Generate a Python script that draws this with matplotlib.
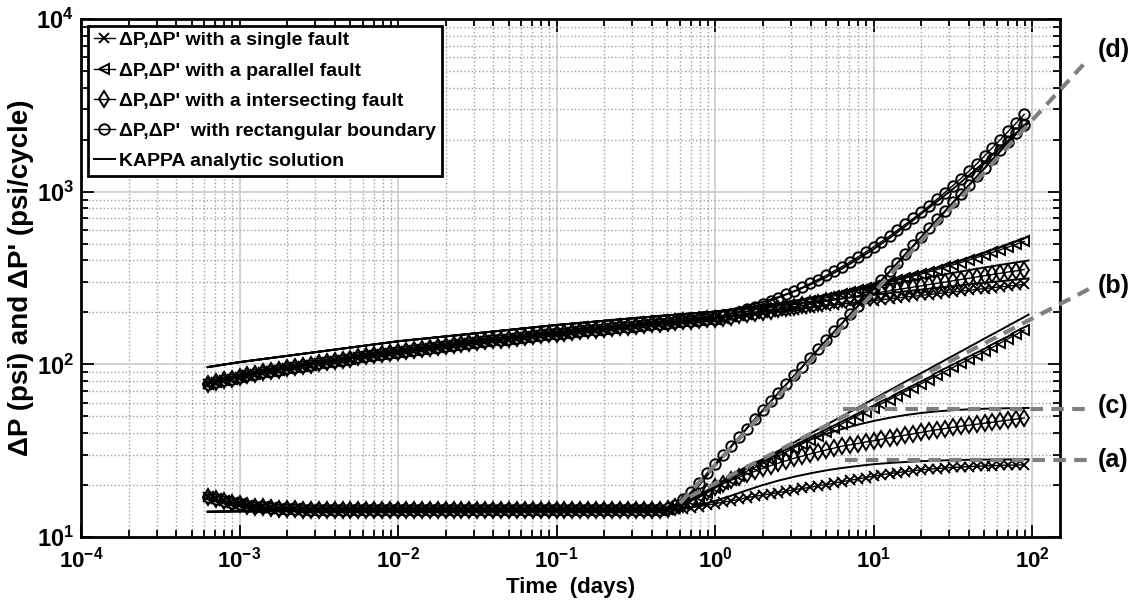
import math
import matplotlib
matplotlib.use('Agg')
import matplotlib.pyplot as plt
from matplotlib.ticker import FuncFormatter, LogLocator, NullFormatter

plt.rcParams['font.family'] = ['Liberation Sans', 'DejaVu Sans']
plt.rcParams['font.weight'] = 'bold'
plt.rcParams['mathtext.fontset'] = 'custom'
plt.rcParams['mathtext.bf'] = 'Liberation Sans:bold'
plt.rcParams['mathtext.rm'] = 'Liberation Sans:bold'

# ---- simulated (marker) data, time in days ----
t_days = [
    6.31e-4, 7.08e-4, 7.94e-4, 8.91e-4,
    1.00e-3, 1.12e-3, 1.26e-3, 1.41e-3, 1.58e-3, 1.78e-3, 2.00e-3, 2.24e-3, 2.51e-3, 2.82e-3,
    3.16e-3, 3.55e-3, 3.98e-3, 4.47e-3, 5.01e-3, 5.62e-3, 6.31e-3, 7.08e-3, 7.94e-3, 8.91e-3,
    1.00e-2, 1.12e-2, 1.26e-2, 1.41e-2, 1.58e-2, 1.78e-2, 2.00e-2, 2.24e-2, 2.51e-2, 2.82e-2,
    3.16e-2, 3.55e-2, 3.98e-2, 4.47e-2, 5.01e-2, 5.62e-2, 6.31e-2, 7.08e-2, 7.94e-2, 8.91e-2,
    0.100, 0.112, 0.126, 0.141, 0.158, 0.178, 0.200, 0.224, 0.251, 0.282,
    0.316, 0.355, 0.398, 0.447, 0.501, 0.562, 0.631, 0.708, 0.794, 0.891,
    1.00, 1.12, 1.26, 1.41, 1.58, 1.78, 2.00, 2.24, 2.51, 2.82,
    3.16, 3.55, 3.98, 4.47, 5.01, 5.62, 6.31, 7.08, 7.94, 8.91,
    10.0, 11.2, 12.6, 14.1, 15.8, 17.8, 20.0, 22.4, 25.1, 28.2,
    31.6, 35.5, 39.8, 44.7, 50.1, 56.2, 63.1, 70.8, 79.4, 89.1,
]

# pressure change (psi): identical for all cases up to 1 day
dp_early = [
    77.0, 78.9, 80.8, 82.7, 84.5, 86.2, 88.0, 89.7, 91.4, 93.1,
    94.7, 96.4, 98.1, 99.7, 101.4, 103.0, 104.7, 106.3, 108.0, 109.6,
    111.3, 112.9, 114.6, 116.2, 117.8, 119.5, 121.1, 122.8, 124.4, 126.1,
    127.7, 129.4, 131.0, 132.7, 134.3, 135.9, 137.6, 139.2, 140.9, 142.5,
    144.2, 145.8, 147.5, 149.1, 150.8, 152.4, 154.1, 155.7, 157.3, 159.0,
    160.6, 162.3, 163.9, 165.6, 167.2, 168.9, 170.5, 172.2, 173.8, 175.5,
    177.1, 178.8, 180.4, 182.1, 183.7,
]
dp_single = [
    185.9, 188.1, 190.4, 192.7, 195.1, 197.5, 200.0, 202.5, 205.0, 207.6,
    210.2, 212.9, 215.7, 218.5, 221.2, 223.7, 226.2, 228.8, 231.3, 234.0,
    236.7, 239.5, 242.3, 245.0, 247.9, 250.8, 253.7, 256.7, 259.6, 262.5,
    265.6, 268.6, 271.7, 274.7, 277.8, 280.9, 284.0, 287.1, 290.2,
]
dp_parallel = [
    186.7, 189.9, 193.2, 196.7, 200.4, 204.3, 208.3, 212.5, 216.9, 221.6,
    226.5, 231.7, 237.1, 242.9, 248.9, 255.3, 261.9, 269.0, 276.3, 284.1,
    291.4, 298.9, 306.9, 315.4, 324.2, 333.6, 343.4, 353.9, 364.9, 376.5,
    388.8, 401.8, 415.4, 429.7, 445.0, 460.9, 478.0, 496.0, 515.2,
]
dp_intersect = [
    186.4, 189.2, 192.0, 195.0, 198.2, 201.4, 204.7, 208.3, 211.8, 215.5,
    219.4, 223.3, 227.4, 231.6, 235.9, 240.2, 244.7, 249.1, 253.3, 257.5,
    261.9, 266.3, 270.9, 275.4, 280.1, 284.8, 289.7, 294.7, 299.6, 304.8,
    310.0, 315.2, 320.5, 325.9, 331.4, 336.9, 342.6, 348.3, 354.1,
]
dp_rect = [
    191, 196, 202, 209, 216, 224, 233, 243, 254, 266,
    279, 294, 310, 327, 347, 368, 392, 418, 447, 479,
    514, 553, 597, 646, 700, 760, 828, 904, 989, 1084,
    1191, 1312, 1449, 1611, 1799, 2004, 2239, 2500, 2799,
]

# pressure derivative (psi/cycle): identical up to ~0.4 day
dd_early = [
    17.1, 16.6, 16.2, 15.8, 15.5, 15.2, 15.0, 14.85, 14.7, 14.6,
    14.5, 14.45, 14.4, 14.35, 14.3, 14.3, 14.3, 14.3, 14.3, 14.3,
    14.3, 14.3, 14.3, 14.3, 14.3, 14.3, 14.3, 14.3, 14.3, 14.3,
    14.3, 14.3, 14.3, 14.3, 14.3, 14.3, 14.3, 14.3, 14.3, 14.3,
    14.3, 14.3, 14.3, 14.3, 14.3, 14.3, 14.3, 14.3, 14.3, 14.3,
    14.3, 14.3, 14.3, 14.3, 14.3, 14.3, 14.3,
]
dd_single = [
    14.3, 14.4, 14.5, 14.6, 14.8, 15.0, 15.3, 15.6,
    15.9, 16.2, 16.5, 16.9, 17.2, 17.5, 17.8, 18.1, 18.4, 18.8,
    19.1, 19.4, 19.8, 20.1, 20.5, 20.9, 21.3, 21.7, 22.1, 22.5,
    22.9, 23.3, 23.6, 23.9, 24.2, 24.5, 24.7, 24.9, 25.1, 25.3,
    25.4, 25.6, 25.7, 25.8, 25.9, 26.0, 26.1, 26.1, 26.2,
]
dd_parallel = [
    14.4, 14.6, 15.0, 15.5, 16.2, 17.0, 18.0,
    19.2, 20.3, 21.5, 22.7, 24.0, 25.3, 26.6,
    28.0, 29.5, 31.2, 32.9, 34.7, 36.6, 38.6, 40.7, 43.0, 45.3,
    47.8, 50.5, 53.2, 56.1, 59.2, 62.5, 65.9, 69.6, 73.4, 77.4,
    81.7, 86.2, 90.9, 95.9, 101.2, 106.8, 112.7, 118.9, 125.4, 133,
    141, 149, 158,
]
dd_intersect = [
    14.4, 14.6, 15.0, 15.5, 16.2, 17.1, 18.2, 19.5,
    20.4, 21.3, 22.2, 23.1, 24.0, 25.0, 25.9, 26.8, 27.7, 28.6,
    29.4, 30.3, 31.1, 31.9, 32.7, 33.6, 34.2, 34.8, 35.5, 36.1,
    36.8, 37.5, 38.2, 38.9, 39.6, 40.4, 41.1, 41.8, 42.5, 43.2,
    43.8, 44.4, 45.0, 45.6, 46.2, 46.9, 47.5, 48.2, 48.9,
]
dd_rect = [
    14.4, 14.7, 15.3, 16.5, 18.3, 20.6, 23.5, 26.5, 29.8,
    33.6, 37.8, 42.5, 48.2, 54.3, 61, 68.5, 77, 86.5, 97,
    109, 123, 138, 155, 173, 195, 218, 245, 275, 309,
    346, 388, 436, 489, 549, 615, 691, 775, 869, 975,
    1094, 1228, 1377, 1546, 1734, 1946, 2183, 2449,
]

# ---- KAPPA analytic solution ----
kappa_t = [6.3e-4, 1e-3, 0.01, 0.1, 0.3, 0.45, 0.56, 0.7, 0.85, 1.0,
           1.25, 1.6, 2.0, 2.5, 3.2, 4.0, 5.0, 6.3, 8.0, 10,
           13, 16, 20, 25, 32, 40, 50, 63, 80, 95]
kp_early = [96.4, 103, 136, 169, 184.7, 190.6, 193.7, 196.9, 199.7, 202]
kp_single = [205.7, 210.1, 214.4, 219.0, 224.4, 229.5, 234.8, 240.5, 246.6, 252.4,
             259.4, 265.0, 271.1, 277.3, 284.2, 290.4, 296.7, 303.2, 309.9, 314.8]
kp_parallel = [206.7, 212.7, 218.7, 225.4, 233.7, 242.1, 251.5, 262.4, 275.1, 288.4,
               306.1, 321.8, 340.6, 361.6, 387.8, 414.4, 444.2, 478.7, 518.8, 550.8]
kp_intersect = [206.7, 212.6, 218.6, 225.2, 233.2, 241.1, 249.6, 259.0, 269.4, 279.6,
                292.2, 302.6, 314.1, 325.9, 339.2, 351.4, 363.7, 376.5, 389.8, 399.4]
kp_rect = [208, 218, 230, 245, 266, 290, 320, 358, 408, 465,
           550, 635, 745, 875, 1045, 1245, 1485, 1795, 2200, 2560]

kd_early = [14.0, 14.1, 14.2, 14.25, 14.3, 14.3]
kd_single = [14.5, 14.9, 15.5, 16.2, 17.3, 18.7, 20.0, 21.2, 22.4, 23.4, 24.3, 25.1,
             25.8, 26.4, 26.9, 27.2, 27.5, 27.7, 27.9, 28.0, 28.1, 28.1, 28.2, 28.2]
kd_parallel = [14.9, 16.3, 18.0, 19.8, 22.5, 25.8, 28.2, 31.5, 35.6, 39.8, 44.5, 50,
               56.3, 63, 71.8, 79.7, 89, 99.6, 112.7, 126, 141, 158, 178, 194]
kd_intersect = [14.9, 16.3, 18.0, 19.8, 22.5, 25.5, 28, 30.8, 33.8, 36.7, 39.5, 42.2,
                44.8, 47, 49.3, 50.9, 52.3, 53.4, 54.3, 54.9, 55.3, 55.6, 55.8, 55.9]
kd_rect = [15.0, 17.5, 21.5, 26, 33, 43, 54, 68, 87, 109, 136, 172,
           218, 272, 354, 435, 544, 680, 870, 1088, 1360, 1714, 2176, 2500]

# ---- gray dashed guide lines (a)-(d): x ends, y ends, label y ----
guides = {
    '(d)': ([0.6, 225], [15.7, 5820], 6650),
    '(b)': ([0.69, 235], [17.1, 277], 285),
    '(c)': ([6.4, 225], [55, 55], 57),
    '(a)': ([6.6, 225], [27.9, 27.9], 27.9),
}

cases = [
    ("ΔP,ΔP' with a single fault", 'x', 6.5, dp_single, dd_single, kp_single, kd_single),
    ("ΔP,ΔP' with a parallel fault", '<', 7.5, dp_parallel, dd_parallel, kp_parallel, kd_parallel),
    ("ΔP,ΔP' with a intersecting fault", 'd', 8.5, dp_intersect, dd_intersect, kp_intersect, kd_intersect),
    ("ΔP,ΔP'  with rectangular boundary", 'o', 7.5, dp_rect, dd_rect, kp_rect, kd_rect),
]

fig = plt.figure(figsize=(11.38, 6.09), dpi=100)
ax = fig.add_axes([0.0712, 0.1182, 0.8603, 0.8506])

for label, mk, ms, dp, dd, kp, kd in cases:
    ax.plot(t_days, dp_early + dp, '-', color='black', lw=1.0, marker=mk, ms=ms,
            mfc='none', mec='black', mew=1.4, label=label, zorder=3)
    ax.plot(t_days, dd_early + dd, '-', color='black', lw=1.0, marker=mk, ms=ms,
            mfc='none', mec='black', mew=1.4, zorder=3)

for i, (label, mk, ms, dp, dd, kp, kd) in enumerate(cases):
    ax.plot(kappa_t, kp_early + kp, '-', color='black', lw=1.4, zorder=4,
            label='KAPPA analytic solution' if i == 0 else None)
    ax.plot(kappa_t, kd_early + kd, '-', color='black', lw=1.4, zorder=4)

for name, (gx, gy, ty) in guides.items():
    ax.plot(gx, gy, color='#7f7f7f', lw=3, dashes=(3, 2), clip_on=False, zorder=5)
    ax.text(260, ty, name, fontsize=18, fontweight='bold', ha='left', va='center',
            clip_on=False)

ax.set_xscale('log')
ax.set_yscale('log')
ax.set_xlim(1e-4, 150)
ax.set_ylim(10, 1e4)

ax.xaxis.set_major_locator(LogLocator(base=10, numticks=20))
ax.xaxis.set_minor_locator(LogLocator(base=10, subs=range(2, 10), numticks=40))
ax.yaxis.set_major_locator(LogLocator(base=10, numticks=20))
ax.yaxis.set_minor_locator(LogLocator(base=10, subs=range(2, 10), numticks=40))
ax.xaxis.set_minor_formatter(NullFormatter())
ax.yaxis.set_minor_formatter(NullFormatter())
sci = FuncFormatter(lambda v, pos: r'$\mathbf{10^{%d}}$' % round(math.log10(v)))
ax.xaxis.set_major_formatter(sci)
ax.yaxis.set_major_formatter(sci)

ax.grid(True, which='major', color='#cccccc', lw=1.2, ls='-')
ax.grid(True, which='minor', color='#a0a0a0', lw=1.0, ls=':')
ax.set_axisbelow(True)

ax.tick_params(which='both', direction='in', top=True, right=True, width=1.3)
ax.tick_params(which='major', length=9, pad=5)
ax.tick_params(which='minor', length=5)
ax.tick_params(axis='y', which='major', labelsize=17)
ax.tick_params(axis='x', which='major', labelsize=16, pad=7)
for s in ax.spines.values():
    s.set_linewidth(2)

ax.set_xlabel('Time  (days)', fontsize=16, fontweight='bold', labelpad=3)
ax.set_ylabel("ΔP (psi) and ΔP' (psi/cycle)", fontsize=20, fontweight='bold', labelpad=2)

leg = ax.legend(loc='upper left', fontsize=14, frameon=True, fancybox=False,
                framealpha=1, edgecolor='black', handlelength=1.1, handletextpad=0.2,
                labelspacing=0.65, borderpad=0.3, borderaxespad=0.35)
leg.get_frame().set_linewidth(2)

fig.savefig('out.png', dpi=100)
